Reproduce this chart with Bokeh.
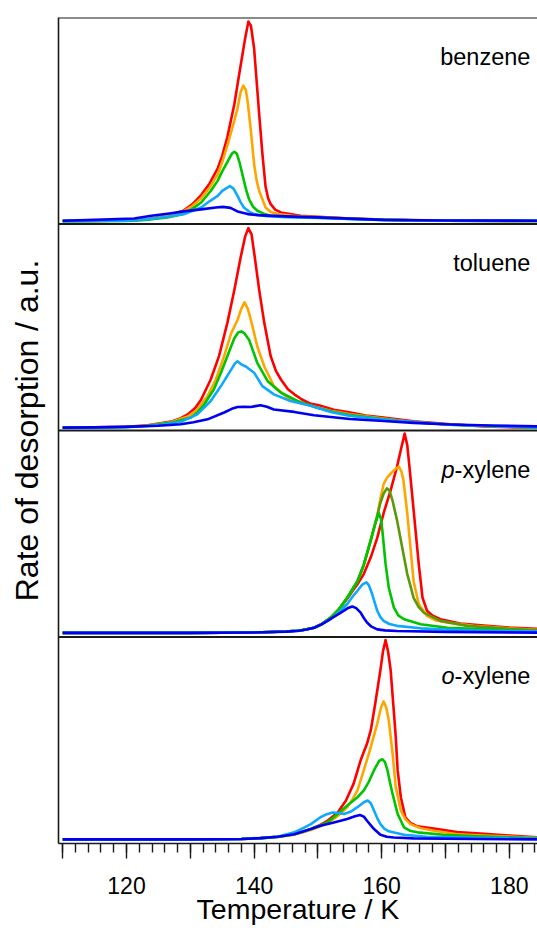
import math
from bokeh.plotting import figure
from bokeh.models import Span, Label, FixedTicker, Range1d, Title
from bokeh.embed import file_html
from bokeh.resources import INLINE

# ---- data: (temperature / K, rate / a.u., in % of panel height) ----
benzene_red = [(110,1.5),(115,1.5),(120,1.7),(123,2.2),(126.4,4.0),(129.0,6.6),(130.3,9.5),(131.7,14),(133,19.5),(134.3,27),(135,33),(135.8,42),(136.9,58),(137.9,77),(138.6,90),(139.1,98),(139.5,96),(140.0,85),(140.4,69),(140.8,53),(141.3,34),(141.8,18),(142.2,12.5),(142.6,9.6),(143.3,7),(144.2,5.6),(147.3,4),(150,3.5),(155,2.7),(160,2.1),(165,1.8),(170,1.6),(184.5,1.5)]
benzene_orange = [(110,1.5),(120,1.6),(123,2.1),(126.4,3.8),(129,6.2),(130.3,8.7),(131.7,12.5),(133,17.5),(134.3,24),(135,30),(135.8,38),(136.9,50),(137.4,56),(137.9,64),(138.3,67),(138.7,65),(139.0,59),(139.5,45),(140.0,29),(140.4,21),(140.8,16),(141.8,8),(142.6,5.8),(143.7,4.8),(146,4.0),(150,3.4),(155,2.7),(160,2.1),(170,1.6),(184.5,1.5)]
benzene_green = [(110,1.4),(120,1.5),(123,2.0),(126.4,3.2),(129,4.8),(130.3,7.3),(131.7,10.4),(133.2,16),(134.3,21),(135,25.5),(135.8,30),(136.5,34),(136.9,35),(137.3,34),(137.7,30),(138.4,21),(138.8,16),(139.2,12),(139.8,8.5),(140.5,6.4),(141.5,5),(142.6,4),(145,3.5),(150,3),(155,2.5),(160,2),(170,1.6),(184.5,1.5)]
benzene_lightblue = [(110,1.4),(120,1.6),(123,2.2),(126.4,3.5),(129,4.8),(130.3,6.3),(131.7,8),(133,11),(134.3,13.6),(135,16),(135.5,17),(136.2,18.4),(136.8,17),(137.4,13.6),(137.9,10.5),(138.4,8),(139.2,6),(140.0,4.8),(142,3.8),(145,3.3),(150,2.9),(160,2),(170,1.6),(184.5,1.5)]
benzene_blue = [(110,1.6),(115,2.0),(121.2,2.7),(123.9,4),(127,5.2),(129,6.1),(132,7.2),(134,8.0),(135.1,8.3),(136.3,7.8),(137.4,6.1),(139,4.8),(140.5,4.3),(145,3.7),(150,3.2),(155,2.6),(160.3,2.0),(170,1.7),(184.5,1.6)]

toluene_red = [(110,1.4),(115,1.5),(120,1.8),(123.3,2.5),(127,4.3),(128.5,6),(129.6,7.8),(130.8,11),(131.7,15),(133.2,24.7),(134.5,36),(135.8,52),(136.9,68),(137.9,84),(138.6,94),(139.1,98),(139.6,95),(140.1,84),(140.8,68),(141.6,52),(142.6,36),(143.4,29),(144.2,24.7),(145.3,20),(146.3,17.5),(147.5,15),(148.9,12.9),(150,12.3),(152.5,10),(155.1,8.7),(157.5,7.3),(160.3,6.3),(165,4.5),(170.8,3),(176,2),(181,1.5),(184.5,1.3)]
toluene_orange = [(110,1.4),(120,1.7),(123.3,2.4),(127,4),(129.6,6.8),(131.1,10),(132.7,16.7),(134.0,24.7),(135.3,36),(136.4,47),(137.4,53.5),(138.0,59),(138.5,62),(139.0,59),(139.5,53.5),(140.5,40.7),(141.6,31),(143.1,21.5),(145.2,16),(147,13.6),(148.9,12),(152,9.5),(155.1,7.8),(160.3,5.8),(165,4),(170.8,2.8),(180,1.8),(184.5,1.4)]
toluene_green = [(110,1.4),(120,1.7),(123.3,2.3),(127,3.8),(130.1,6.3),(131.2,9),(132.2,12.7),(133.7,20),(134.8,28),(135.8,36),(136.9,44.7),(137.5,47.5),(138.0,48),(138.5,47),(139.2,44),(140.5,32.7),(142.1,24),(144.2,18.3),(146.8,14.3),(149.9,11),(152.5,9),(155.1,7.5),(160.3,5.5),(165,4),(170.8,2.8),(180,1.8),(184.5,1.4)]
toluene_lightblue = [(110,1.4),(120,1.6),(123.3,2.2),(126,3.0),(128.5,4.2),(131.1,7.8),(133.2,14.3),(134.8,21.5),(136.4,29.5),(137.0,32.5),(137.4,33.5),(138.0,32),(138.7,31),(140.0,28),(141.3,21.5),(143.1,17.5),(145.7,14.3),(148.9,12),(152,9),(155.1,7),(160.3,5.3),(165.6,4),(170.8,2.8),(180,1.8),(184.5,1.5)]
toluene_blue = [(110,1.4),(115,1.5),(120.7,1.9),(125,2.3),(128.5,3),(130.5,4),(132.7,5.4),(135.3,8.7),(136.5,10.5),(137.4,11.4),(138.5,11.5),(139.5,11.4),(140.2,11.8),(141.0,12.2),(142,11.5),(143.1,10.2),(146.3,9),(149.4,7.4),(152,6.5),(155,5.6),(160.3,4.6),(165,3.7),(170.8,2.9),(177,2.4),(184.5,2)]

pxylene_red = [(110,2),(130,2),(140,2.2),(145,2.7),(147.5,3.3),(149.4,4.5),(150.7,6.4),(152,9.2),(153.3,13.3),(154.6,18.5),(155.4,22.2),(156.2,25.5),(157.2,30.6),(158.3,38.7),(159.3,48),(160.3,60),(161.4,71),(162.4,82.5),(163.1,92),(163.6,98.5),(164.0,93),(164.3,84),(164.8,68),(165.3,51.7),(165.8,35.5),(166.4,19),(167.1,12.7),(168,10.3),(169.2,8.6),(172.3,6.5),(176,5.5),(180,4.6),(184.5,3.9)]
pxylene_orange = [(110,2),(130,2),(140,2.2),(145,2.7),(147.5,3.3),(149.4,4.5),(150.7,6.5),(152,9.4),(153.3,13.5),(154.6,19),(155.4,23),(156.2,27),(157.2,35),(158.3,47),(159.3,58.7),(159.8,67),(160.3,74),(160.8,77),(161.5,79.5),(162.2,81.5),(162.7,82.5),(163.1,80),(163.4,76),(164.0,60),(164.5,43.6),(165.0,27),(165.8,16),(167.1,10.2),(168.5,8),(170.3,7),(174.4,5.4),(180,4.2),(184.5,3.4)]
pxylene_olive = [(110,2),(130,2),(140,2.2),(145,2.7),(147.5,3.3),(149.4,4.5),(150.7,6.5),(152,9.4),(153.3,13.5),(154.6,19),(155.4,23),(156.2,27),(157.2,35),(158.3,47),(159.3,58.7),(159.8,65),(160.3,69.5),(160.8,72),(161.2,71),(161.7,66),(162.4,56.6),(163.2,43.6),(164.0,30.6),(165.0,19),(165.8,14.5),(166.6,11.8),(169.2,7.8),(173.4,5.4),(180,4),(184.5,3.2)]
pxylene_green = [(110,2),(130,2),(140,2.2),(145,2.7),(147.5,3.3),(149.4,4.5),(150.7,6.5),(152,9.4),(153.3,13.5),(154.6,19),(155.4,23),(156.2,27),(157.2,35),(158.3,47),(159.0,55),(159.55,60),(159.9,57),(160.1,51.7),(160.6,35.5),(161.1,24),(161.9,14.3),(162.6,10.5),(163.5,8.6),(166.1,6.2),(170.3,4.5),(175.5,3.9),(184.5,2.8)]
pxylene_lightblue = [(110,2),(130,2),(140,2.2),(145,2.7),(147.5,3.3),(149.4,4.5),(150.7,6.3),(152,8.6),(153.3,12),(154.6,16),(155.4,19.4),(156.2,22.4),(157.0,25.5),(157.6,26.5),(158.0,25),(158.5,20.8),(159.3,12.7),(159.8,9.6),(160.3,7.8),(161.2,6.3),(162.4,5.4),(166.1,4.2),(170,3.6),(177,3),(184.5,2.7)]
pxylene_blue = [(110,2),(130,2),(140,2.2),(145,2.6),(146.8,2.9),(148.2,3.6),(149.4,4.5),(150.5,6.0),(151.5,7.8),(152.5,9.8),(153.6,11.8),(154.7,14),(155.4,14.8),(156.0,14),(156.7,11.8),(157.2,9.2),(157.7,7),(158.4,5.0),(159.3,3.7),(160.5,3.2),(162.4,2.9),(170,2.5),(184.5,2.1)]

oxylene_red = [(110,2),(130,2),(138,2.2),(141,2.7),(143.7,3.3),(146.3,4.5),(147.7,5.6),(148.9,7),(150.3,8.9),(151.5,11),(153.1,15),(154.4,20.8),(155.6,29),(156.7,40.3),(157.7,48.4),(158.3,55),(159.0,68),(159.8,84),(160.2,93),(160.6,98.5),(161.0,93),(161.4,84),(161.8,68),(162.2,51.7),(162.5,35.5),(163.0,22.4),(163.7,12.7),(164.5,10),(165.6,8.3),(168.7,7),(171.8,5.5),(176,4.7),(180,3.8),(184.5,3)]
oxylene_orange = [(110,2),(130,2),(138,2.2),(141,2.6),(143.7,3.2),(146.3,4.3),(148.9,6.5),(150.3,8.2),(151.5,10),(152.5,11.9),(153.6,14.5),(154.6,17.6),(155.4,21.3),(156.2,25.7),(157.2,35.5),(158.3,46.8),(159.3,58),(159.9,66),(160.3,68.8),(160.7,66),(161.1,59.8),(161.7,43.6),(162.2,27.3),(163.0,15.9),(163.7,11.8),(164.5,9.4),(166,7.5),(168.2,6.2),(171.8,4.5),(176,3.8),(184.5,2.8)]
oxylene_green = [(110,2),(130,2),(138,2.2),(141,2.6),(143.7,3.2),(146.3,4.5),(148.9,7),(151.5,10.2),(153.1,14.3),(154.6,18.4),(156.2,22.4),(157.2,25.7),(158.0,30),(158.8,35.5),(159.6,40),(160.1,40.8),(160.5,39.5),(160.9,35.5),(161.3,29.5),(161.7,24),(162.5,14.3),(163.5,7.8),(164.4,6.2),(165.6,5.4),(169.7,4.2),(175,3.5),(184.5,2.6)]
oxylene_lightblue = [(110,2),(130,2),(138,2.2),(141,2.5),(143.7,3.3),(146.3,5.4),(147.6,7.3),(148.9,9.4),(150.4,12.7),(151.4,14.2),(152.3,15),(153.3,14.8),(154.1,14.3),(155.2,15.5),(156.2,17.6),(157.2,20),(157.8,20.8),(158.3,19.5),(158.8,15.9),(159.3,12.3),(159.8,9.4),(160.4,7.2),(161.1,5.9),(163.5,4.2),(167,3.3),(175,2.8),(184.5,2.4)]
oxylene_blue = [(110,2),(130,2),(138,2.2),(141,2.6),(143.7,3.3),(146.3,4.5),(148.9,7),(150.4,8.6),(152.5,10.2),(154.6,11.9),(155.8,13.2),(156.6,13.8),(157.2,13),(157.7,11),(158.3,8.8),(158.8,7),(159.8,4.2),(160.8,3.3),(161.9,2.9),(165,2.5),(175,2.2),(184.5,2)]

panel_names = ["benzene", "toluene", "p-xylene", "o-xylene"]
x_major_ticks = [110, 120, 130, 140, 150, 160, 170, 180]
x_labelled_ticks = [120, 140, 160, 180]

RED, ORANGE, OLIVE, GREEN, LBLUE, BLUE = "#ff0000", "#ffa500", "#5a9a08", "#00c400", "#10a8ff", "#0000f0"

panels = [
    [(benzene_red, RED), (benzene_orange, ORANGE), (benzene_green, GREEN), (benzene_lightblue, LBLUE), (benzene_blue, BLUE)],
    [(toluene_red, RED), (toluene_orange, ORANGE), (toluene_green, GREEN), (toluene_lightblue, LBLUE), (toluene_blue, BLUE)],
    [(pxylene_red, RED), (pxylene_orange, ORANGE), (pxylene_olive, OLIVE), (pxylene_green, GREEN), (pxylene_lightblue, LBLUE), (pxylene_blue, BLUE)],
    [(oxylene_red, RED), (oxylene_orange, ORANGE), (oxylene_green, GREEN), (oxylene_lightblue, LBLUE), (oxylene_blue, BLUE)],
]

FONT = "Liberation Sans"
DARK = "#1a1a1a"

p = figure(frame_width=479, frame_height=826,
           x_range=Range1d(109.34, 184.42), y_range=Range1d(0, 4),
           output_backend="svg", toolbar_location=None,
           min_border_left=58, min_border_right=0, min_border_top=17, min_border_bottom=0)
p.grid.visible = False
p.outline_line_color = None
p.background_fill_color = "white"
p.border_fill_color = "white"

n = len(panels)
for i, series in enumerate(panels):
    offset = n - 1 - i
    for data, color in series:
        xs = [t for t, _ in data]
        ys = [offset + v / 100.0 for _, v in data]
        p.line(xs, ys, line_color=color, line_width=2.6, line_join="round")

# panel separators and top frame line
for loc in [1, 2, 3, 4]:
    p.add_layout(Span(location=loc, dimension="width", line_color=DARK, line_width=2))

# panel labels
for i, name in enumerate(panel_names):
    top = n - i
    ylab = top - 0.19
    if "-" in name:
        prefix, rest = name.split("-", 1)
        p.add_layout(Label(x=183.3, y=ylab, text="-" + rest, text_align="right",
                           text_baseline="alphabetic", text_font=FONT, text_font_size="23.5px",
                           text_color="black"))
        p.add_layout(Label(x=183.3, y=ylab, x_offset=-75.7, text=prefix, text_align="right",
                           text_baseline="alphabetic", text_font=FONT, text_font_size="23.5px",
                           text_font_style="italic", text_color="black"))
    else:
        p.add_layout(Label(x=183.3, y=ylab, text=name, text_align="right",
                           text_baseline="alphabetic", text_font=FONT, text_font_size="23.5px",
                           text_color="black"))

# x axis
xa = p.xaxis[0]
xa.ticker = FixedTicker(ticks=x_major_ticks, minor_ticks=list(range(110, 186, 2)))
xa.major_label_overrides = {t: ("" if t not in x_labelled_ticks else str(t)) for t in x_major_ticks}
xa.axis_label = "Temperature / K"
xa.axis_label_text_font = FONT
xa.axis_label_text_font_size = "28.5px"
xa.axis_label_text_font_style = "normal"
xa.axis_label_text_color = "black"
xa.axis_label_standoff = -4
xa.major_label_text_font = FONT
xa.major_label_text_font_size = "23px"
xa.major_label_text_color = "black"
xa.major_label_standoff = 18
xa.axis_line_color = DARK
xa.axis_line_width = 1.6
xa.major_tick_line_color = DARK
xa.minor_tick_line_color = DARK
xa.major_tick_line_width = 1.4
xa.minor_tick_line_width = 1.4
xa.major_tick_in = 0
xa.major_tick_out = 15
xa.minor_tick_in = 0
xa.minor_tick_out = 9

# y axis: line only (invisible ticks reserve room next to the y title)
ya = p.yaxis[0]
ya.ticker = FixedTicker(ticks=[1, 2, 3], minor_ticks=[])
ya.major_label_overrides = {1: "", 2: "", 3: ""}
ya.major_label_text_font_size = "1px"
ya.major_label_standoff = 0
ya.axis_line_color = DARK
ya.axis_line_width = 1.6
ya.major_tick_line_color = None
ya.major_tick_in = 0
ya.major_tick_out = 9

# y label: a title on the left, shifted up like in the original
p.add_layout(Title(text="Rate of desorption / a.u.", align="center", offset=30,
                   text_font=FONT, text_font_size="32px", text_font_style="normal",
                   text_color="black"), "left")

open("out.html", "w").write(file_html(p, INLINE))
